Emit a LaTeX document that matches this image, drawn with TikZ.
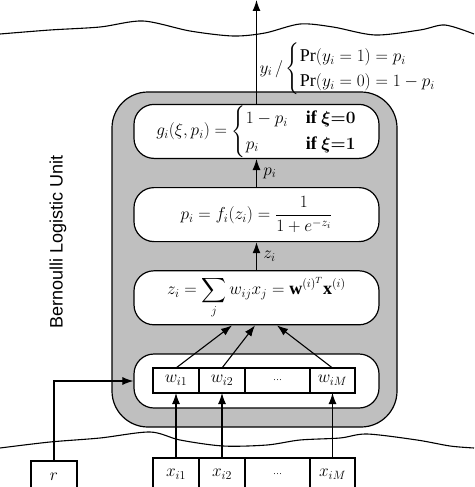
\documentclass[tikz,border=0pt]{standalone}
\usepackage{amsmath}
\usepackage{fontspec}
\setmainfont{Liberation Serif}
\setsansfont{Liberation Sans}
\usetikzlibrary{
	positioning,   %相对定位
	arrows.meta,   %箭头
	calc
}
\tikzset{
	every picture/.style={
		>={Latex[length=11pt,width=8pt]},
		node distance=28pt
}}
\tikzset{unitbox/.style={draw,fill=gray!50,rounded corners=36pt,line width=1.2pt}}
\tikzset{funcbox/.style={draw,fill=white,rounded corners=20pt,
		minimum width=245pt,minimum height=54pt,inner sep=0pt,line width=1.2pt}}
\tikzset{cell/.style={draw,fill=white,minimum height=25pt,inner sep=0pt,outer sep=0pt}}
\tikzset{wave/.style={line width=1.1pt}}

\begin{document}
\begin{tikzpicture}[x=1pt,y=-1pt,line width=1.1pt,
	every node/.style={font=\fontsize{18}{21}\selectfont}]
\useasboundingbox (0,0) rectangle (474,487);
% 波浪分界线
\draw[wave] plot[smooth] coordinates {(0,34) (50,30) (100,27) (143,21) (190,31) (233,36) (265,33) (300,24) (333,27) (375,35) (420,30) (445,25) (474,34)};
\draw[wave] plot[smooth] coordinates {(0,448) (50,442) (100,438) (150,432) (180,440) (223,446) (267,445) (300,440) (340,438) (367,434) (417,440) (450,446) (474,448)};
% 单元外框
\node[unitbox,minimum width=285pt,minimum height=335pt] (unit) at (254.5,259.5) {};
\node[rotate=90,font=\sffamily\fontsize{18}{20}\selectfont] (title) at (58,242) {Bernoulli Logistic Unit};
% 内部各层
\node[funcbox] (wbox) at (256.5,381) {};
\node[funcbox,above=of wbox] (zbox) {$\displaystyle z_i=\sum_j w_{ij}x_j=\mathbf{w}^{(i)^T}\mathbf{x}^{(i)}$};
\node[funcbox,above=of zbox] (pbox) {$\displaystyle p_i=f_i(z_i)=\frac{1}{1+e^{-z_i}}$};
\node[funcbox,above=of pbox] (gbox) {$g_i(\xi,p_i)=\begin{cases}1-p_i & \mathbf{if}\ \boldsymbol{\xi{=}0}\\ p_i & \mathbf{if}\ \boldsymbol{\xi{=}1}\end{cases}$};
% 权重与输入
\node[cell,minimum width=46pt] (w1) at (176,380.5) {$w_{i1}$};
\node[cell,minimum width=46pt,right=0pt of w1] (w2) {$w_{i2}$};
\node[cell,minimum width=65pt,right=0pt of w2] (w3) {\small\dots};
\node[cell,minimum width=45pt,right=0pt of w3] (w4) {$w_{iM}$};
\node[cell,minimum width=46pt,minimum height=32pt] (x1) at (176,474) {$x_{i1}$};
\node[cell,minimum width=46pt,minimum height=32pt,right=0pt of x1] (x2) {$x_{i2}$};
\node[cell,minimum width=65pt,minimum height=32pt,right=0pt of x2] (x3) {\small\dots};
\node[cell,minimum width=45pt,minimum height=32pt,right=0pt of x3] (x4) {$x_{iM}$};
\node[cell,minimum width=46pt,minimum height=32pt] (r) at (54,477) {$r$};
% 连线
\draw[->] (x1.north) -- (w1.south);
\draw[->] (x2.north) -- (w2.south);
\draw[->] (x4.north) -- (w4.south);
\draw[->] (w1.north) -- ([xshift=-24.5pt]zbox.south);
\draw[->] (w2.north) -- ([xshift=-1.5pt]zbox.south);
\draw[->] (w4.north) -- ([xshift=20.5pt]zbox.south);
\draw[->] (r.north) |- (wbox.west);
\draw[->] (zbox.north) -- node[right=3pt] {$z_i$} (pbox.south);
\draw[->] (pbox.north) -- node[right=3pt] {$p_i$} (gbox.south);
\coordinate (out) at (256.5,0);
\draw[->] (gbox.north) -- (out);
\node[anchor=west,inner sep=0pt] (ylab) at (259,69) {$y_i\,/\begin{cases}\Pr(y_i=1)=p_i\\ \Pr(y_i=0)=1-p_i\end{cases}$};
\end{tikzpicture}
\end{document}
